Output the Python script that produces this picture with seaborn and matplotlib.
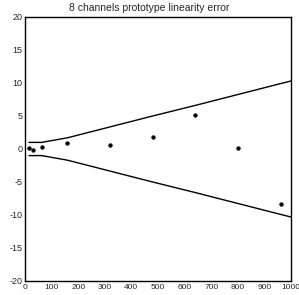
import matplotlib
matplotlib.use("Agg")
import matplotlib.pyplot as plt
from matplotlib.ticker import MultipleLocator
import seaborn as sns
import pandas as pd

# ── Data ─────────────────────────────────────────────────────────────────────
point_x = [15, 31, 63, 159, 320, 480, 640, 800, 961]
point_y = [0.15, -0.2, 0.25, 0.95, 0.65, 1.8, 5.2, 0.15, -8.4]

band_x = [15, 63, 160, 320, 480, 640, 800, 960, 1000]
band_upper = [1.0, 1.0, 1.7, 3.35, 5.0, 6.6, 8.25, 9.9, 10.3]
band_lower = [-v for v in band_upper]

sns.set_style("white")
plt.rcParams["font.family"] = ["Liberation Sans", "DejaVu Sans"]
plt.rcParams["axes.unicode_minus"] = False

fig = plt.figure(figsize=(2.99, 2.95), dpi=100)
ax = fig.add_axes([0.0836, 0.0475, 0.8894, 0.8949])

pts = pd.DataFrame({"x": point_x, "y": point_y})
band = pd.DataFrame({"x": band_x, "up": band_upper, "lo": band_lower})

sns.lineplot(data=band, x="x", y="up", ax=ax, color="black", lw=1.0,
             sort=False, estimator=None)
sns.lineplot(data=band, x="x", y="lo", ax=ax, color="black", lw=1.0,
             sort=False, estimator=None)
sns.scatterplot(data=pts, x="x", y="y", ax=ax, color="black", s=7,
                marker="o", edgecolor="black", linewidth=0.4)

ax.set_xlim(0, 1000)
ax.set_ylim(-20, 20)
ax.set_xlabel("")
ax.set_ylabel("")
ax.xaxis.set_major_locator(MultipleLocator(100))
ax.xaxis.set_minor_locator(MultipleLocator(20))
ax.yaxis.set_major_locator(MultipleLocator(5))
ax.yaxis.set_minor_locator(MultipleLocator(1))
ax.tick_params(which="both", direction="in", top=False, right=False,
               pad=2, width=0.9, color="black")
ax.tick_params(axis="x", labelsize=6.0)
ax.tick_params(axis="y", labelsize=6.5)
ax.tick_params(which="major", length=4)
ax.tick_params(which="minor", length=2)
for s in ax.spines.values():
    s.set_visible(True)
    s.set_color("black")
    s.set_linewidth(1.0)

fig.text(0.5, 0.972, "8 channels prototype linearity error", ha="center",
         va="center", fontsize=7.5)

fig.savefig("out.png", dpi=100, facecolor="white")
